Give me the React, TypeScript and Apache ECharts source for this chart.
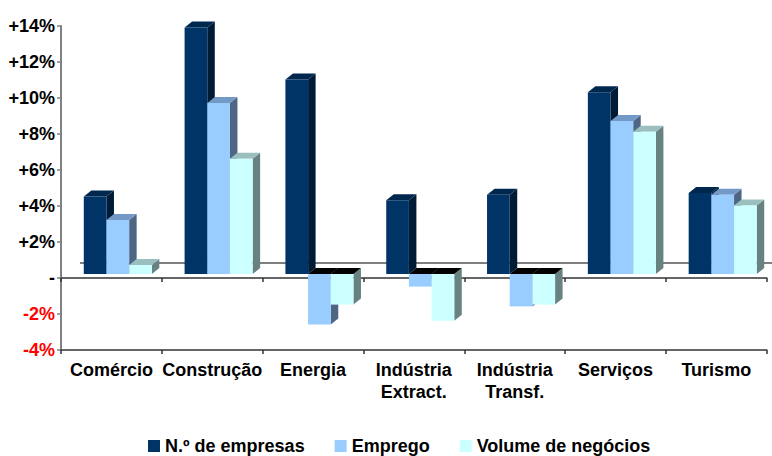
import React, { useEffect, useRef } from "react";
import * as echarts from "echarts";

const categories = [
  "Comércio",
  "Construção",
  "Energia",
  "Indústria\nExtract.",
  "Indústria\nTransf.",
  "Serviços",
  "Turismo",
];
const seriesNames = ["N.º de empresas", "Emprego", "Volume de negócios"];
const empresas = [4.3, 13.7, 10.8, 4.1, 4.4, 10.1, 4.5];
const emprego = [3.0, 9.5, -2.8, -0.7, -1.8, 8.5, 4.4];
const volume = [0.5, 6.4, -1.7, -2.6, -1.7, 7.9, 3.8];
const yMin = -4;
const yMax = 14;
const yStep = 2;

const palettes = [
  { front: "#003366", side: "#001b36", top: "#00284f" },
  { front: "#99ccff", side: "#4e6683", top: "#7399c6" },
  { front: "#ccffff", side: "#678281", top: "#9bbfbe" },
];

const FONT = "'Liberation Sans', Arial, sans-serif";

function make3D(s: number) {
  const pal = palettes[s];
  return (params: any, api: any) => {
    const cat = api.value(0);
    const v = api.value(1);
    const band = api.size([1, 0])[0];
    const zero = api.coord([cat, 0]);
    const end = api.coord([cat, v]);
    const w = band * 0.225;
    const left = zero[0] - band / 2 + band * 0.226 + s * w;
    const lift = 4;
    const dx = 7.5;
    const dy = -6;
    const base = zero[1] - lift;
    const tip = end[1] - lift;
    const children: any[] = [];
    if (v >= 0) {
      children.push({
        type: "polygon",
        shape: {
          points: [
            [left + w, tip],
            [left + w + dx, tip + dy],
            [left + w + dx, base + dy],
            [left + w, base],
          ],
        },
        style: { fill: pal.side },
      });
      children.push({
        type: "polygon",
        shape: {
          points: [
            [left, tip],
            [left + dx, tip + dy],
            [left + w + dx, tip + dy],
            [left + w, tip],
          ],
        },
        style: { fill: pal.top },
      });
      children.push({
        type: "rect",
        shape: { x: left, y: tip, width: w, height: base - tip },
        style: { fill: pal.front },
      });
    } else {
      children.push({
        type: "polygon",
        shape: {
          points: [
            [left + w, base],
            [left + w + dx, base + dy],
            [left + w + dx, tip + dy],
            [left + w, tip],
          ],
        },
        style: { fill: pal.side },
      });
      children.push({
        type: "polygon",
        shape: {
          points: [
            [left, base],
            [left + dx, base + dy],
            [left + w + dx, base + dy],
            [left + w, base],
          ],
        },
        style: { fill: "#000000" },
      });
      children.push({
        type: "rect",
        shape: { x: left, y: base, width: w, height: tip - base },
        style: { fill: pal.front },
      });
    }
    return { type: "group", children };
  };
}

export default function App() {
  const ref = useRef<HTMLDivElement>(null);
  useEffect(() => {
    if (!ref.current) return;
    const chart = echarts.init(ref.current, undefined, { renderer: "svg" });
    const values = [empresas, emprego, volume];
    const axisLineColor = "#333333";
    chart.setOption({
      animation: false,
      backgroundColor: "#ffffff",
      textStyle: { fontFamily: FONT },
      grid: {
        left: 61,
        top: 26,
        width: 705.7,
        height: 324,
        containLabel: false,
        outerBoundsMode: "none",
      },
      legend: {
        data: seriesNames,
        left: 143,
        top: 431,
        icon: "rect",
        itemWidth: 12,
        itemHeight: 12,
        itemGap: 30,
        selectedMode: false,
        textStyle: {
          fontFamily: FONT,
          fontSize: 18,
          fontWeight: "bold",
          color: "#000000",
          lineHeight: 20,
        },
      },
      xAxis: [
        {
          type: "category",
          data: categories,
          position: "bottom",
          axisLine: {
            onZero: false,
            lineStyle: { color: axisLineColor, width: 1.5 },
          },
          axisTick: {
            show: true,
            length: 4,
            lineStyle: { color: axisLineColor, width: 1.5 },
          },
          axisLabel: {
            interval: 0,
            margin: 9,
            fontFamily: FONT,
            fontSize: 18,
            fontWeight: "bold",
            lineHeight: 22,
            color: "#000000",
          },
          splitLine: { show: false },
        },
        {
          type: "category",
          data: categories,
          position: "top",
          axisLine: {
            onZero: true,
            lineStyle: { color: axisLineColor, width: 1.5 },
          },
          axisTick: {
            show: true,
            inside: true,
            length: 4,
            lineStyle: { color: axisLineColor, width: 1.5 },
          },
          axisLabel: { show: false },
          splitLine: { show: false },
        },
      ],
      yAxis: {
        type: "value",
        min: yMin,
        max: yMax,
        interval: yStep,
        axisLine: {
          show: true,
          onZero: false,
          lineStyle: { color: "#808080", width: 2 },
        },
        axisTick: {
          show: true,
          length: 4,
          lineStyle: { color: "#808080", width: 1.5 },
        },
        splitLine: { show: false },
        axisLabel: {
          margin: 6,
          fontFamily: FONT,
          fontSize: 18,
          fontWeight: "bold",
          formatter: (v: number) =>
            v > 0 ? `+${v}%` : v === 0 ? "-" : `${v}%`,
          color: (v: any) => (Number(v) < 0 ? "#ff0000" : "#000000"),
        },
      },
      series: [
        {
          type: "custom",
          name: "_wall",
          silent: true,
          z: 1,
          xAxisIndex: 0,
          data: [[0, 0]],
          renderItem: (params: any, api: any) => {
            const cs = params.coordSys;
            const y = api.coord([0, 0])[1] - 15;
            return {
              type: "line",
              shape: { x1: cs.x + 19, y1: y, x2: cs.x + cs.width + 6, y2: y },
              style: { stroke: "#000000", lineWidth: 1 },
            };
          },
        },
        ...seriesNames.map((name, s) => ({
          type: "custom",
          name,
          z: 2,
          xAxisIndex: 0,
          itemStyle: { color: palettes[s].front },
          encode: { x: 0, y: 1 },
          data: values[s].map((v, i) => [i, v]),
          renderItem: make3D(s),
        })),
      ],
    });
    return () => chart.dispose();
  }, []);
  return (
    <div
      ref={ref}
      style={{
        position: "fixed",
        left: 0,
        top: 0,
        width: 772,
        height: 456,
        background: "#ffffff",
      }}
    />
  );
}
